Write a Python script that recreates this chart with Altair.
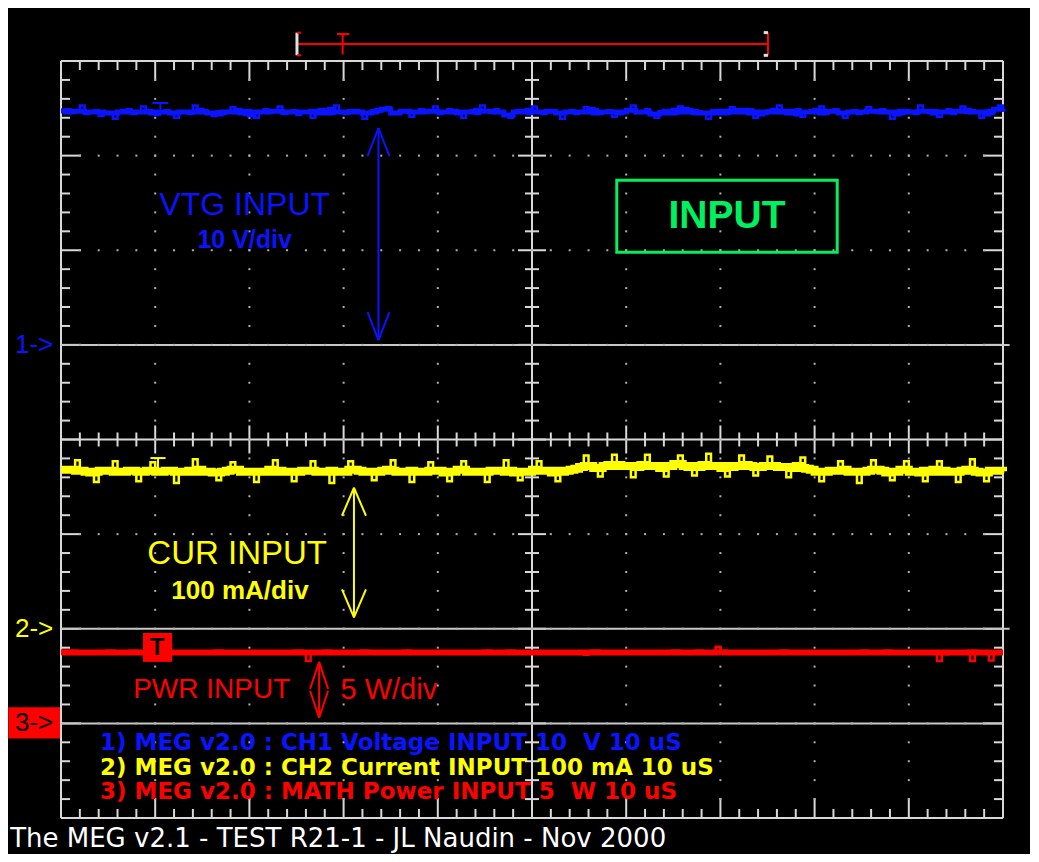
import altair as alt
import pandas as pd

# ------------------------------------------------------------------ data
# time base: 10 uS/div, 10 divisions -> a sample every 0.5 uS
time_us = [i * 0.5 for i in range(201)]

ch1_volt = [
    24.6, 24.9, 24.5, 24.7, 25.3, 24.4, 24.6, 24.8, 24.2, 24.6, 24.5, 23.9, 24.7, 24.6, 24.9, 24.4, 24.6, 25.2, 24.5, 24.7,
    24.3, 24.6, 24.8, 24.5, 24.0, 24.7, 24.6, 24.4, 25.3, 24.6, 24.8, 24.5, 24.2, 24.7, 24.4, 24.6, 25.1, 24.5, 24.8, 24.3,
    24.7, 24.0, 24.6, 24.9, 24.5, 24.7, 25.2, 24.4, 24.6, 24.8, 24.3, 24.6, 24.7, 24.0, 24.8, 24.5, 24.9, 24.4, 25.3, 24.6,
    24.4, 24.8, 24.6, 24.7, 23.9, 24.5, 24.8, 24.6, 24.9, 25.1, 24.4, 24.5, 24.8, 24.7, 24.1, 24.6, 24.9, 24.5, 24.7, 25.2,
    24.4, 24.6, 24.9, 24.5, 24.7, 24.0, 24.6, 24.8, 24.4, 25.3, 24.7, 24.5, 24.9, 24.6, 24.3, 24.0, 24.7, 24.6, 24.8, 24.4,
    25.2, 24.6, 24.4, 24.8, 24.7, 24.5, 23.9, 24.6, 24.8, 24.4, 24.6, 25.1, 24.5, 24.9, 24.4, 24.6, 24.8, 24.1, 24.6, 24.5,
    24.8, 25.3, 24.5, 24.6, 24.9, 24.4, 24.0, 24.7, 24.5, 24.8, 24.4, 25.2, 24.6, 24.9, 24.4, 24.7, 24.5, 23.9, 24.8, 24.5,
    24.7, 24.4, 25.1, 24.6, 24.8, 24.5, 24.9, 24.0, 24.6, 24.4, 24.8, 24.6, 25.3, 24.5, 24.7, 24.4, 24.9, 24.1, 24.6, 24.8,
    24.5, 25.2, 24.4, 24.7, 24.9, 24.5, 24.0, 24.6, 24.8, 24.4, 24.6, 25.1, 24.7, 24.5, 24.9, 24.6, 23.9, 24.7, 24.4, 24.8,
    24.6, 24.4, 25.3, 24.7, 24.5, 24.8, 24.1, 24.6, 24.9, 24.4, 24.7, 25.2, 24.5, 24.8, 24.6, 24.0, 24.7, 24.4, 24.9, 25.3,
    24.6,
]

ch2_mA = [
    168, 168, 166, 178, 167, 165, 166, 155, 168, 167, 166, 177, 166, 164, 167, 168, 156, 166, 167, 176,
    165, 166, 168, 167, 154, 166, 167, 165, 179, 166, 168, 166, 165, 157, 167, 166, 176, 168, 165, 166,
    167, 155, 166, 168, 166, 178, 165, 167, 166, 156, 168, 166, 167, 177, 165, 166, 168, 154, 167, 166,
    166, 177, 168, 165, 167, 166, 157, 166, 168, 167, 178, 165, 166, 167, 155, 168, 166, 166, 176, 167,
    165, 167, 156, 166, 168, 177, 166, 165, 167, 166, 155, 168, 167, 166, 178, 165, 167, 157, 166, 168,
    166, 177, 167, 165, 168, 156, 167, 166, 168, 169, 171, 183, 172, 170, 161, 173, 172, 184, 171, 173,
    172, 160, 173, 171, 184, 172, 170, 173, 161, 172, 174, 183, 171, 172, 162, 173, 171, 185, 172, 170,
    173, 161, 172, 171, 183, 172, 173, 162, 171, 172, 182, 170, 172, 171, 160, 172, 170, 181, 169, 168,
    166, 156, 168, 166, 167, 177, 165, 168, 166, 154, 167, 166, 178, 168, 165, 167, 157, 166, 168, 177,
    166, 165, 167, 156, 168, 166, 177, 165, 167, 166, 155, 168, 167, 179, 166, 165, 156, 167, 168, 166,
    167,
]

ch3_W = [
    3.75, 3.77, 3.74, 3.76, 3.75, 3.73, 3.76, 3.75, 3.74, 3.77, 3.75, 3.76, 3.74, 3.75, 3.77, 3.74, 3.76, 3.75, 3.73, 3.75,
    3.76, 3.74, 3.75, 3.77, 3.75, 3.74, 3.76, 3.75, 3.73, 3.76, 3.75, 3.74, 3.77, 3.75, 3.76, 3.74, 3.75, 3.76, 3.74, 3.75,
    3.77, 3.75, 3.74, 3.76, 3.75, 3.73, 3.76, 3.75, 3.74, 3.77, 3.75, 3.76, 3.30, 3.75, 3.74, 3.76, 3.75, 3.77, 3.74, 3.75,
    3.76, 3.75, 3.74, 3.77, 3.75, 3.76, 3.74, 3.75, 3.73, 3.76, 3.75, 3.74, 3.77, 3.75, 3.76, 3.74, 3.75, 3.76, 3.74, 3.75,
    3.77, 3.75, 3.74, 3.76, 3.75, 3.73, 3.76, 3.75, 3.74, 3.77, 3.75, 3.76, 3.74, 3.75, 3.77, 3.74, 3.76, 3.75, 3.73, 3.75,
    3.76, 3.74, 3.75, 3.77, 3.75, 3.74, 3.76, 3.75, 3.73, 3.76, 3.75, 3.62, 3.77, 3.75, 3.76, 3.74, 3.75, 3.76, 3.74, 3.75,
    3.77, 3.75, 3.74, 3.76, 3.75, 3.73, 3.76, 3.75, 3.74, 3.77, 3.75, 3.76, 3.74, 3.75, 3.77, 3.74, 3.76, 3.75, 3.73, 4.05,
    3.76, 3.74, 3.75, 3.77, 3.75, 3.74, 3.76, 3.75, 3.73, 3.76, 3.75, 3.74, 3.77, 3.75, 3.76, 3.74, 3.75, 3.76, 3.74, 3.75,
    3.77, 3.75, 3.74, 3.76, 3.75, 3.73, 3.76, 3.75, 3.74, 3.77, 3.75, 3.76, 3.74, 3.75, 3.77, 3.74, 3.76, 3.75, 3.73, 3.75,
    3.76, 3.74, 3.75, 3.77, 3.75, 3.74, 3.30, 3.75, 3.73, 3.76, 3.75, 3.74, 3.77, 3.30, 3.76, 3.74, 3.75, 3.32, 3.74, 3.75,
    3.75,
]

legend_lines = [
    "1) MEG v2.0 : CH1 Voltage INPUT 10\u00a0 V 10 uS",
    "2) MEG v2.0 : CH2 Current INPUT 100 mA 10 uS",
    "3) MEG v2.0 : MATH Power INPUT 5\u00a0 W 10 uS",
]
footer = "The MEG v2.1 - TEST R21-1 - JL Naudin - Nov 2000"

# channel settings: (units per div, reference level in div)
CH1 = (10.0, 1.0)
CH2 = (100.0, -2.0)
CH3 = (5.0, -3.0)
US_PER_DIV = 10.0

BLUE, YELLOW, RED, GREEN = "#0a14ff", "#ffff00", "#ff0000", "#00f060"
GRID = "#d8d8d8"
FONT = "Liberation Sans"

W, H = 942, 757
PX_X = W / 10.0
PX_Y = H / 8.0

X = alt.X("x:Q", scale=alt.Scale(domain=[0, 10], nice=False, zero=False), axis=None)
Y = alt.Y("y:Q", scale=alt.Scale(domain=[-4, 4], nice=False, zero=False), axis=None)


def trace(values, ch):
    per, off = ch
    return pd.DataFrame({"x": [t / US_PER_DIV for t in time_us],
                         "y": [v / per + off for v in values]})


def band(df):
    # running median of the recorded samples: the bright core of the trace
    out = df.copy()
    out["y"] = df["y"].rolling(3, center=True, min_periods=1).median()
    return out


# ------------------------------------------------------------------ graticule
segs = []   # x, y, x2, y2
tl_min, tl_maj = 9 / PX_Y, 20 / PX_Y
tx_min, tx_maj = 9 / PX_X, 20 / PX_X
c_min, c_maj = 7 / PX_Y, 14 / PX_Y
cx_min, cx_maj = 7 / PX_X, 14 / PX_X
for i in range(51):
    xv = i * 0.2
    maj = i % 5 == 0
    L = tl_maj if maj else tl_min
    segs.append((xv, 4, xv, 4 - L))
    segs.append((xv, -4, xv, -4 + L))
    c = c_maj if maj else c_min
    segs.append((xv, -c, xv, c))
for j in range(41):
    yv = -4 + j * 0.2
    maj = j % 5 == 0
    L = tx_maj if maj else tx_min
    segs.append((0, yv, L, yv))
    segs.append((10 - L, yv, 10, yv))
    c = cx_maj if maj else cx_min
    segs.append((5 - c, yv, 5 + c, yv))
ticks_df = pd.DataFrame(segs, columns=["x", "y", "x2", "y2"])

frame_df = pd.DataFrame([
    (0, 4, 10, 4), (0, -4, 10, -4), (0, -4, 0, 4), (10, -4, 10, 4),
    (0, 0, 10, 0), (5, -4, 5, 4),
], columns=["x", "y", "x2", "y2"])

ref_df = pd.DataFrame([(0, CH1[1], 10.07, CH1[1]), (0, CH2[1], 10.07, CH2[1]),
                       (0, CH3[1], 10.0, CH3[1])], columns=["x", "y", "x2", "y2"])

dots = []
for k in range(1, 10):
    if k == 5:
        continue
    for j in range(1, 40):
        dots.append((k, -4 + j * 0.2))
for m in range(-3, 4):
    if m == 0:
        continue
    for i in range(1, 50):
        dots.append((i * 0.2, m))
dots_df = pd.DataFrame(dots, columns=["x", "y"])


def rules(df, color, width):
    return alt.Chart(df).mark_rule(color=color, strokeWidth=width).encode(
        x=X, y=Y, x2="x2:Q", y2="y2:Q")


grat = [
    rules(ticks_df, GRID, 2),
    rules(frame_df, GRID, 2),
    rules(ref_df, "#c8c8c8", 2),
    alt.Chart(dots_df).mark_square(size=4, color="#b0b0b0", opacity=1).encode(x=X, y=Y),
]


# ------------------------------------------------------------------ traces
def line(df, color, w):
    return alt.Chart(df).mark_line(color=color, strokeWidth=w, interpolate="step-after").encode(
        x=X, y=Y)


traces = []
for vals, ch, col, wcore in [(ch1_volt, CH1, BLUE, 5), (ch2_mA, CH2, YELLOW, 8), (ch3_W, CH3, RED, 6)]:
    d = trace(vals, ch)
    traces.append(line(d, col, 2.5))
    traces.append(line(band(d), col, wcore))

# small trigger-point "T" flags on channel 1 and 2
flags_blue = pd.DataFrame([(0.97, 3.556, 1.14, 3.556), (1.055, 3.556, 1.055, 3.46)],
                          columns=["x", "y", "x2", "y2"])
flags_yel = pd.DataFrame([(0.95, -0.196, 1.11, -0.196), (1.03, -0.196, 1.03, -0.30)],
                         columns=["x", "y", "x2", "y2"])
flags = [rules(flags_blue, BLUE, 2), rules(flags_yel, YELLOW, 2)]


# ------------------------------------------------------------------ arrows
def arrow(xc, ytop, ybot, hw, hl):
    hw_d, hl_d = hw / PX_X, hl / PX_Y
    return pd.DataFrame([
        (xc, ytop, xc, ybot),
        (xc, ytop, xc - hw_d, ytop - hl_d), (xc, ytop, xc + hw_d, ytop - hl_d),
        (xc, ybot, xc - hw_d, ybot + hl_d), (xc, ybot, xc + hw_d, ybot + hl_d),
    ], columns=["x", "y", "x2", "y2"])


arrows = [
    rules(arrow(3.37, 3.29, 1.05, 11, 28), BLUE, 2),
    rules(arrow(3.11, -0.51, -1.88, 12, 28), YELLOW, 2),
    rules(arrow(2.74, -2.35, -2.94, 9, 27), RED, 2),
]

# top horizontal position marker
marker_df = pd.DataFrame([
    (2.505, 4.18, 7.505, 4.18),
    (2.99, 4.285, 2.99, 4.07), (2.93, 4.285, 3.06, 4.285),
    (7.505, 4.30, 7.505, 4.06),
], columns=["x", "y", "x2", "y2"])
bracket_df = pd.DataFrame([
    (2.505, 4.30, 2.505, 4.06),
    (7.46, 4.30, 7.505, 4.30), (7.46, 4.06, 7.505, 4.06),
], columns=["x", "y", "x2", "y2"])
bracket_red = pd.DataFrame([
    (2.505, 4.30, 2.55, 4.30), (2.505, 4.06, 2.55, 4.06),
], columns=["x", "y", "x2", "y2"])
markers = [rules(marker_df, RED, 2), rules(bracket_df, "#e0e0e0", 3), rules(bracket_red, RED, 2)]

# boxes
box_df = pd.DataFrame([{"x": 5.90, "x2": 8.24, "y": 2.74, "y2": 1.98}])
input_box = alt.Chart(box_df).mark_rect(fillOpacity=0, stroke=GREEN, strokeWidth=3).encode(
    x=X, x2="x2:Q", y=Y, y2="y2:Q")
red_boxes_df = pd.DataFrame([
    {"x": -0.56, "x2": -0.01, "y": -2.83, "y2": -3.16},
    {"x": 0.87, "x2": 1.18, "y": -2.045, "y2": -2.35},
])
red_boxes = alt.Chart(red_boxes_df).mark_rect(color=RED).encode(
    x=X, x2="x2:Q", y=Y, y2="y2:Q")


# ------------------------------------------------------------------ text
def txt(rows, color, size, weight="normal", align="center", font=FONT, baseline="middle"):
    df = pd.DataFrame(rows, columns=["x", "y", "t"])
    return alt.Chart(df).mark_text(color=color, fontSize=size, fontWeight=weight,
                                   font=font, align=align, baseline=baseline).encode(
        x=X, y=Y, text="t:N")


texts = [
    txt([(1.95, 2.48, "VTG INPUT")], BLUE, 32),
    txt([(1.95, 2.11, "10 V/div")], BLUE, 25, "bold"),
    txt([(7.07, 2.36, "INPUT")], GREEN, 39, "bold"),
    txt([(1.87, -1.21, "CUR INPUT")], YELLOW, 33),
    txt([(1.90, -1.60, "100 mA/div")], YELLOW, 26, "bold"),
    txt([(1.60, -2.65, "PWR INPUT")], RED, 28),
    txt([(3.48, -2.65, "5 W/div")], RED, 29),
    txt([(1.02, -2.20, "T")], "black", 24, "bold"),
    txt([(-0.285, 1.0, "1->")], BLUE, 26),
    txt([(-0.285, -2.0, "2->")], YELLOW, 26),
    txt([(-0.285, -3.0, "3->")], "black", 26),
    txt([(0.414, -3.21, legend_lines[0])], BLUE, 23, "bold", "left", "DejaVu Sans"),
    txt([(0.414, -3.47, legend_lines[1])], YELLOW, 23, "bold", "left", "DejaVu Sans"),
    txt([(0.414, -3.73, legend_lines[2])], RED, 23, "bold", "left", "DejaVu Sans"),
    txt([(-0.54, -4.3065, footer)], "white", 26, "normal", "left", "DejaVu Sans", "alphabetic"),
]

chart = alt.layer(*grat, *arrows, *markers, input_box, red_boxes, *traces, *flags, *texts).properties(
    width=W, height=H,
    autosize=alt.AutoSizeParams(type="none"),
    padding={"left": 53, "top": 53, "right": 27, "bottom": 36},
    background="black",
).configure_view(strokeWidth=0, fill="black")

chart.save("out.html", embed_options={"renderer": "svg", "actions": False})
